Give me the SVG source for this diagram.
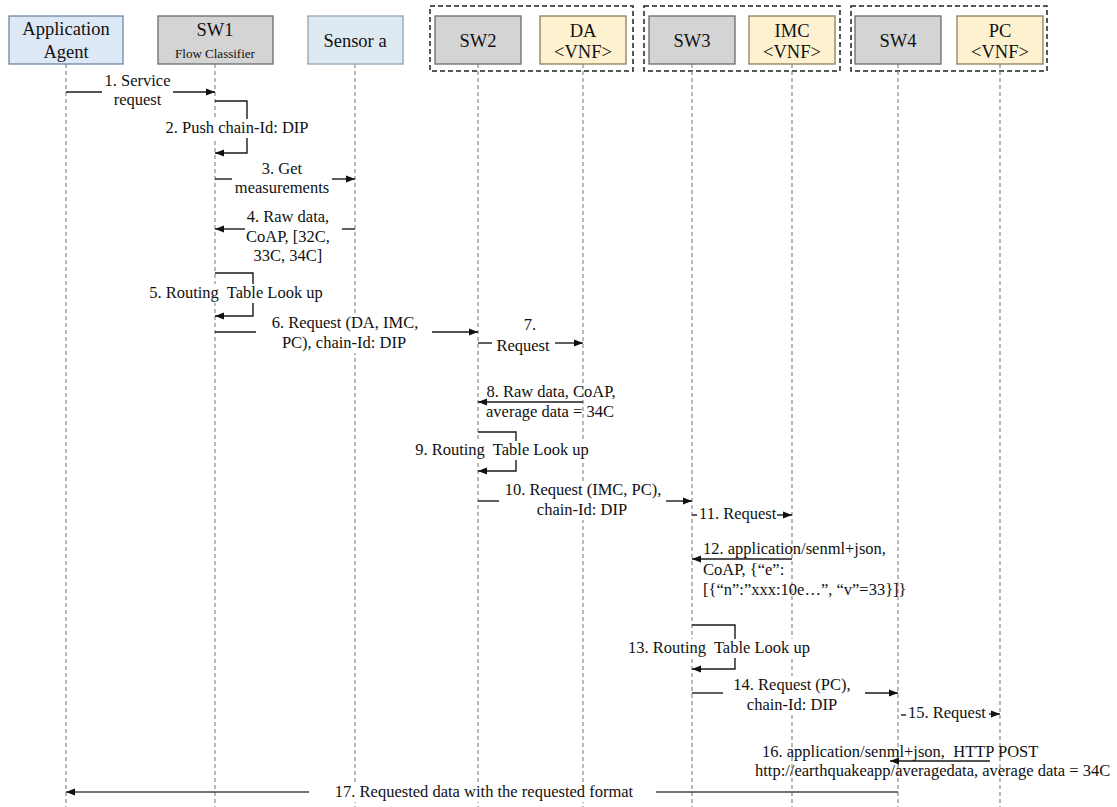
<svg xmlns="http://www.w3.org/2000/svg" width="1117" height="807" viewBox="0 0 1117 807">
  <style>
    .hdr { font-family: "Liberation Serif", "Times New Roman", serif; font-size: 18.5px; fill: #111; text-anchor: middle; }
    .sub { font-family: "Liberation Serif", "Times New Roman", serif; font-size: 13px; fill: #111; text-anchor: middle; }
    .lbl { font-family: "Liberation Serif", "Times New Roman", serif; font-size: 16.5px; fill: #111; white-space: pre; }
    .mid { text-anchor: middle; }
    .agent { fill: #dce8f5; stroke: #6f86a3; stroke-width: 1.3; }
    .sensor { fill: #dfe9f2; stroke: #8fa3b6; stroke-width: 1.3; }
    .switch { fill: #d4d4d4; stroke: #6a6a6a; stroke-width: 1.3; }
    .vnf { fill: #fdf1cf; stroke: #8c7f58; stroke-width: 1.3; }
    .group { fill: none; stroke: #222; stroke-width: 1.5; stroke-dasharray: 5 3; }
    .life { stroke: #8a8a8a; stroke-width: 1.2; stroke-dasharray: 4 3; fill: none; }
    .msg { stroke: #1a1a1a; stroke-width: 1.4; fill: none; }
    .ret { stroke: #444; stroke-width: 1.6; fill: none; }
    .bg { fill: #fff; }
  </style>
  <defs>
    <marker id="arrow" markerUnits="userSpaceOnUse" markerWidth="10" markerHeight="8" refX="9" refY="4" orient="auto">
      <path d="M0,0.5 L9,4 L0,7.5 z" fill="#111"/>
    </marker>
  </defs>

  <rect width="1117" height="807" fill="#fff"/>

  <!-- chain segments: switch + VNF pairs -->
  <g id="groups">
    <rect class="group" x="430" y="6" width="203" height="65"/>
    <rect class="group" x="644" y="6" width="196" height="65"/>
    <rect class="group" x="851" y="6" width="196" height="65"/>
  </g>

  <!-- lifelines -->
  <g id="lifelines">
    <line class="life" x1="66" y1="64" x2="66" y2="807"/>
    <line class="life" x1="215" y1="64" x2="215" y2="807"/>
    <line class="life" x1="355" y1="64" x2="355" y2="807"/>
    <line class="life" x1="478" y1="64" x2="478" y2="807"/>
    <line class="life" x1="583" y1="64" x2="583" y2="807"/>
    <line class="life" x1="692" y1="64" x2="692" y2="807"/>
    <line class="life" x1="792" y1="64" x2="792" y2="807"/>
    <line class="life" x1="898" y1="64" x2="898" y2="807"/>
    <line class="life" x1="1000" y1="64" x2="1000" y2="807"/>
  </g>

  <!-- participants -->
  <g id="app-agent">
    <rect class="agent" x="9" y="16" width="114" height="48"/>
    <text class="hdr" x="66" y="35">Application</text>
    <text class="hdr" x="66" y="58">Agent</text>
  </g>
  <g id="sw1">
    <rect class="switch" x="158" y="16" width="115" height="48"/>
    <text class="hdr" x="215" y="36">SW1</text>
    <text class="sub" x="215" y="58">Flow Classifier</text>
  </g>
  <g id="sensor-a">
    <rect class="sensor" x="308" y="16" width="95" height="48"/>
    <text class="hdr" x="355" y="47">Sensor a</text>
  </g>
  <g id="sw2">
    <rect class="switch" x="435" y="16" width="86" height="48"/>
    <text class="hdr" x="478" y="47">SW2</text>
  </g>
  <g id="da">
    <rect class="vnf" x="540" y="16" width="86" height="48"/>
    <text class="hdr" x="583" y="37">DA</text>
    <text class="hdr" x="583" y="58">&lt;VNF&gt;</text>
  </g>
  <g id="sw3">
    <rect class="switch" x="649" y="16" width="86" height="48"/>
    <text class="hdr" x="692" y="47">SW3</text>
  </g>
  <g id="imc">
    <rect class="vnf" x="749" y="16" width="86" height="48"/>
    <text class="hdr" x="792" y="37">IMC</text>
    <text class="hdr" x="792" y="58">&lt;VNF&gt;</text>
  </g>
  <g id="sw4">
    <rect class="switch" x="855" y="16" width="86" height="48"/>
    <text class="hdr" x="898" y="47">SW4</text>
  </g>
  <g id="pc">
    <rect class="vnf" x="957" y="16" width="86" height="48"/>
    <text class="hdr" x="1000" y="37">PC</text>
    <text class="hdr" x="1000" y="58">&lt;VNF&gt;</text>
  </g>

  <!-- messages -->
  <g id="connectors">
    <!-- 1 -->
    <line class="msg" x1="66" y1="92" x2="102" y2="92"/>
    <line class="msg" x1="173" y1="92" x2="215" y2="92" marker-end="url(#arrow)"/>
    <!-- 2 -->
    <polyline class="msg" points="215,101 247,101 247,153 215,153" marker-end="url(#arrow)"/>
    <!-- 3 -->
    <line class="msg" x1="215" y1="179" x2="232" y2="179"/>
    <line class="msg" x1="332" y1="179" x2="355" y2="179" marker-end="url(#arrow)"/>
    <!-- 4 -->
    <line class="msg" x1="355" y1="229" x2="342" y2="229"/>
    <line class="msg" x1="245" y1="229" x2="215" y2="229" marker-end="url(#arrow)"/>
    <!-- 5 -->
    <polyline class="msg" points="215,273 253,273 253,316 215,316" marker-end="url(#arrow)"/>
    <!-- 6 -->
    <line class="msg" x1="215" y1="332" x2="256" y2="332"/>
    <line class="msg" x1="432" y1="332" x2="478" y2="332" marker-end="url(#arrow)"/>
    <!-- 7 -->
    <line class="msg" x1="478" y1="343" x2="492" y2="343"/>
    <line class="msg" x1="555" y1="343" x2="583" y2="343" marker-end="url(#arrow)"/>
    <!-- 8 -->
    <line class="msg" x1="583" y1="402" x2="478" y2="402" marker-end="url(#arrow)"/>
    <!-- 9 -->
    <polyline class="msg" points="478,432 516,432 516,471 478,471" marker-end="url(#arrow)"/>
    <!-- 10 -->
    <line class="msg" x1="478" y1="501" x2="499" y2="501"/>
    <line class="msg" x1="666" y1="501" x2="692" y2="501" marker-end="url(#arrow)"/>
    <!-- 11 -->
    <line class="msg" x1="692" y1="515" x2="697" y2="515"/>
    <line class="msg" x1="777" y1="515" x2="792" y2="515" marker-end="url(#arrow)"/>
    <!-- 12 -->
    <line class="msg" x1="792" y1="559" x2="692" y2="559" marker-end="url(#arrow)"/>
    <!-- 13 -->
    <polyline class="msg" points="692,625 735,625 735,669 692,669" marker-end="url(#arrow)"/>
    <!-- 14 -->
    <line class="msg" x1="692" y1="693" x2="723" y2="693"/>
    <line class="msg" x1="865" y1="693" x2="898" y2="693" marker-end="url(#arrow)"/>
    <!-- 15 -->
    <line class="msg" x1="901" y1="715" x2="906" y2="715"/>
    <line class="msg" x1="989" y1="714" x2="1000" y2="714" marker-end="url(#arrow)"/>
    <!-- 16 -->
    <line class="msg" x1="990" y1="761" x2="890" y2="761" marker-end="url(#arrow)"/>
    <!-- 17 -->
    <line class="ret" x1="898" y1="792" x2="656" y2="792"/>
    <line class="ret" x1="309" y1="792" x2="66" y2="792" marker-end="url(#arrow)"/>
  </g>

  <!-- message labels -->
  <g id="labels">
    <text class="lbl mid" x="137.5" y="86">1. Service</text>
    <text class="lbl mid" x="137.5" y="105">request</text>

    <rect class="bg" x="164" y="119" width="146" height="19"/>
    <text class="lbl mid" x="237" y="133">2. Push chain-Id: DIP</text>

    <text class="lbl mid" x="282" y="174">3. Get</text>
    <text class="lbl mid" x="282" y="193">measurements</text>

    <text class="lbl mid" x="288" y="222">4. Raw data,</text>
    <text class="lbl mid" x="288" y="241.5">CoAP, [32C,</text>
    <text class="lbl mid" x="288" y="261">33C, 34C]</text>

    <rect class="bg" x="147" y="284" width="180" height="19"/>
    <text class="lbl mid" x="236" y="298">5. Routing  Table Look up</text>

    <rect class="bg" x="268" y="314" width="154" height="39"/>
    <text class="lbl mid" x="345" y="328">6. Request (DA, IMC,</text>
    <text class="lbl mid" x="344" y="348">PC), chain-Id: DIP</text>

    <text class="lbl mid" x="530" y="330">7.</text>
    <text class="lbl mid" x="523" y="351">Request</text>

    <text class="lbl mid" x="551" y="397">8. Raw data, CoAP,</text>
    <text class="lbl mid" x="550" y="417">average data = 34C</text>

    <rect class="bg" x="413" y="441" width="180" height="19"/>
    <text class="lbl mid" x="502" y="455">9. Routing  Table Look up</text>

    <rect class="bg" x="500" y="481" width="166" height="39"/>
    <text class="lbl mid" x="583" y="495">10. Request (IMC, PC),</text>
    <text class="lbl mid" x="582" y="515">chain-Id: DIP</text>

    <text class="lbl" x="699" y="519">11. Request</text>

    <text class="lbl" x="703" y="554">12. application/senml+json,</text>
    <text class="lbl" x="703" y="574.5">CoAP, {“e”:</text>
    <text class="lbl" x="703" y="594.5">[{“n”:”xxx:10e…”, “v”=33}]}</text>

    <rect class="bg" x="626" y="639" width="187" height="19"/>
    <text class="lbl mid" x="719" y="653">13. Routing  Table Look up</text>

    <rect class="bg" x="728" y="676" width="128" height="39"/>
    <text class="lbl mid" x="792" y="690">14. Request (PC),</text>
    <text class="lbl mid" x="792" y="710">chain-Id: DIP</text>

    <text class="lbl" x="908" y="718">15. Request</text>

    <text class="lbl" x="762" y="757">16. application/senml+json,  HTTP POST</text>
    <text class="lbl" x="755" y="776">http://earthquakeapp/averagedata, average data = 34C</text>

    <rect class="bg" x="330" y="783" width="310" height="19"/>
    <text class="lbl mid" x="484" y="797">17. Requested data with the requested format</text>
  </g>
</svg>
